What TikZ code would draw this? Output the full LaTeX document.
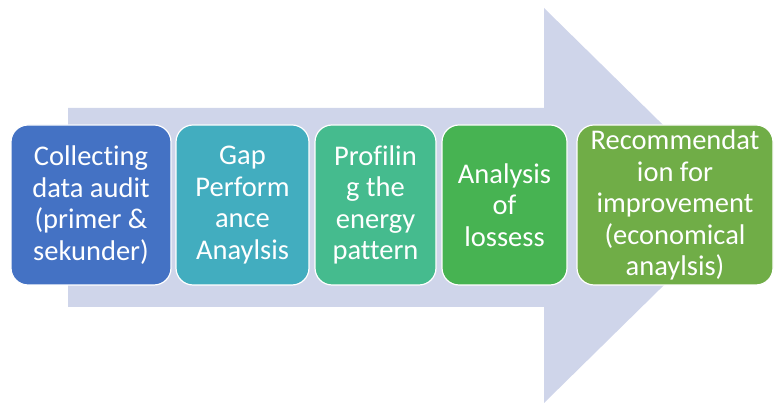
\documentclass[tikz,border=0pt]{standalone}
\usepackage{fontspec}
\setmainfont[Ligatures=CommonOff]{Carlito}
\definecolor{arrowc}{HTML}{CFD5EA}
\definecolor{cA}{HTML}{4472C4}
\definecolor{cB}{HTML}{42ADBF}
\definecolor{cC}{HTML}{45BB8E}
\definecolor{cD}{HTML}{47B352}
\definecolor{cE}{HTML}{70AD47}
\begin{document}
\begin{tikzpicture}[x=1pt,y=1pt,
  stepbox/.style={draw=white, line width=1.2pt, rounded corners=17pt,
    minimum height=160pt, text=white, align=center, inner sep=0pt,
    font=\fontsize{28.5}{31.5}\selectfont}]
\useasboundingbox (0,0) rectangle (774,403);
\fill[arrowc] (68,295) -- (544,295) -- (544,395) -- (745,197.5) -- (544,0) -- (544,96) -- (68,96) -- cycle;
\node[stepbox, fill=cA, minimum width=160pt] (s1) at (91,198) {Collecting\\data audit\\(primer \&\\sekunder)};
\node[stepbox, fill=cB, minimum width=133pt] (s2) at (242.5,198) {Gap\\Perform\\ance\\Anaylsis};
\node[stepbox, fill=cC, minimum width=121pt] (s3) at (375.5,198) {Profilin\\g the\\energy\\pattern};
\node[stepbox, fill=cD, minimum width=125pt] (s4) at (504.5,198) {Analysis\\of\\lossess};
\node[stepbox, fill=cE, minimum width=196pt] (s5) at (675,198) {Recommendat\\ion for\\improvement\\(economical\\anaylsis)};
\end{tikzpicture}
\end{document}
